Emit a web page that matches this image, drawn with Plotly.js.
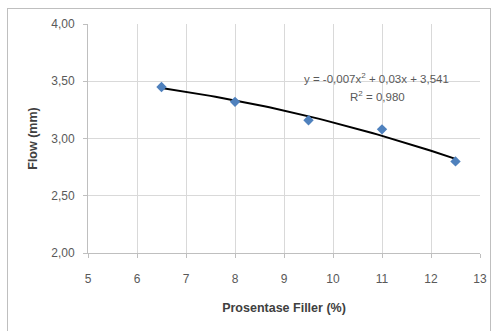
<!DOCTYPE html>
<html>
<head>
<meta charset="utf-8">
<script src="https://cdn.plot.ly/plotly-3.0.1.min.js"></script>
<style>
html,body{margin:0;padding:0;background:#fff;}
#wrap{position:relative;width:497px;height:331px;overflow:hidden;}
#chart{position:absolute;left:0;top:0;width:497px;height:331px;}
#frame{position:absolute;left:7px;top:8px;width:482px;height:330px;border:1px solid #bfbfbf;pointer-events:none;}
</style>
</head>
<body>
<div id="wrap"><div id="chart"></div><div id="frame"></div></div>
<script>
// Data
const filler = [6.5, 8, 9.5, 11, 12.5];
const flow = [3.45, 3.32, 3.16, 3.08, 2.80];
// Displayed trendline coefficients: y = a x^2 + b x + c
const trendCoef = [-0.007, 0.03, 3.541];
const xTicks = [5, 6, 7, 8, 9, 10, 11, 12, 13];
const yTicks = [2.0, 2.5, 3.0, 3.5, 4.0];
const yTickText = ['2,00', '2,50', '3,00', '3,50', '4,00'];
const eqLine = 'y = -0,007x<sup>2</sup> + 0,03x + 3,541';
const r2Line = 'R<sup>2</sup> = 0,980';

const tx = [], ty = [];
const n = 60;
for (let i = 0; i <= n; i++) {
  const x = filler[0] + (filler[filler.length - 1] - filler[0]) * i / n;
  tx.push(x);
  ty.push(trendCoef[0] * x * x + trendCoef[1] * x + trendCoef[2]);
}

const font = 'Liberation Sans, Arial, sans-serif';
const data = [
  {x: tx, y: ty, mode: 'lines', line: {color: '#000000', width: 2}, hoverinfo: 'skip', showlegend: false},
  {x: filler, y: flow, mode: 'markers', marker: {symbol: 'diamond', size: 8, color: '#4f81bd'}, showlegend: false}
];
const layout = {
  width: 497, height: 331,
  margin: {l: 88, r: 17, t: 24, b: 78},
  paper_bgcolor: '#ffffff', plot_bgcolor: '#ffffff',
  font: {family: font, size: 12, color: '#595959'},
  xaxis: {
    range: [5, 13], tickvals: xTicks, ticktext: xTicks.map(String),
    showgrid: true, gridcolor: '#d9d9d9', gridwidth: 1,
    showline: true, linecolor: '#bfbfbf', linewidth: 1,
    ticks: 'outside', ticklen: 4, tickcolor: '#bfbfbf',
    ticklabelstandoff: 11,
    zeroline: false, tickfont: {size: 12, color: '#595959'},
    title: {text: '<b>Prosentase Filler (%)</b>', font: {size: 12.5, color: '#404040'}, standoff: 17}
  },
  yaxis: {
    range: [2, 4], tickvals: yTicks, ticktext: yTickText,
    showgrid: true, gridcolor: '#d9d9d9', gridwidth: 1,
    showline: true, linecolor: '#bfbfbf', linewidth: 1,
    ticks: 'outside', ticklen: 4, tickcolor: '#bfbfbf',
    ticklabelstandoff: 6,
    zeroline: false, tickfont: {size: 12, color: '#595959'},
    title: {text: '<b>Flow (mm)</b>', font: {size: 12.5, color: '#404040'}, standoff: 10}
  },
  annotations: [
    {xref: 'x', yref: 'y', x: 10.88, y: 3.53, text: eqLine, showarrow: false,
     font: {family: font, size: 11.5, color: '#595959'}},
    {xref: 'x', yref: 'y', x: 10.91, y: 3.37, text: r2Line, showarrow: false,
     font: {family: font, size: 11.5, color: '#595959'}}
  ]
};
Plotly.newPlot('chart', data, layout, {displayModeBar: false, staticPlot: true});
</script>
</body>
</html>
